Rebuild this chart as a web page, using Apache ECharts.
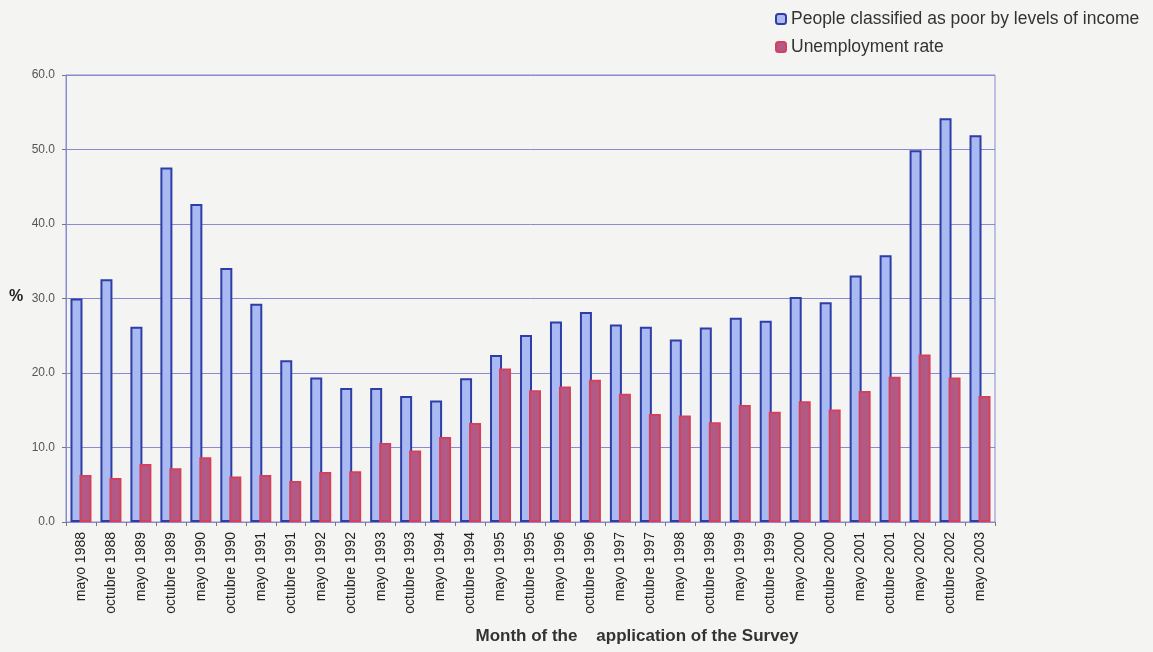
<!DOCTYPE html>
<html>
<head>
<meta charset="utf-8">
<script src="https://cdn.jsdelivr.net/npm/echarts@6/dist/echarts.min.js"></script>
<style>
html,body{margin:0;padding:0;background:#f4f4f3;}
#c{width:1153px;height:652px;}
</style>
</head>
<body>
<div id="c"></div>
<script>
const categories = [
  'mayo 1988','octubre 1988','mayo 1989','octubre 1989','mayo 1990','octubre 1990',
  'mayo 1991','octubre 1991','mayo 1992','octubre 1992','mayo 1993','octubre 1993',
  'mayo 1994','octubre 1994','mayo 1995','octubre 1995','mayo 1996','octubre 1996',
  'mayo 1997','octubre 1997','mayo 1998','octubre 1998','mayo 1999','octubre 1999',
  'mayo 2000','octubre 2000','mayo 2001','octubre 2001','mayo 2002','octubre 2002','mayo 2003'
];
const poorValues = [
  30.0, 32.6, 26.2, 47.6, 42.7, 34.1, 29.3, 21.7, 19.4, 18.0, 18.0, 16.9,
  16.3, 19.3, 22.4, 25.1, 26.9, 28.2, 26.5, 26.2, 24.5, 26.1, 27.4, 27.0,
  30.2, 29.5, 33.1, 35.8, 49.9, 54.2, 51.9
];
const unemploymentValues = [
  6.3, 5.9, 7.8, 7.2, 8.7, 6.1, 6.3, 5.5, 6.7, 6.8, 10.6, 9.6,
  11.4, 13.3, 20.6, 17.7, 18.2, 19.1, 17.2, 14.5, 14.3, 13.4, 15.7, 14.8,
  16.2, 15.1, 17.6, 19.5, 22.5, 19.4, 16.9
];
const yTicks = { min: 0, max: 60, interval: 10 };
const seriesNames = ['People classified as poor by levels of income', 'Unemployment rate'];

const chart = echarts.init(document.getElementById('c'), null, { renderer: 'canvas' });
const font = '"Liberation Sans", Arial, sans-serif';
chart.setOption({
  backgroundColor: '#f4f4f3',
  animation: false,
  grid: { left: 66, right: 158, top: 75, bottom: 130, show: true, borderColor: '#8a8ad0', borderWidth: 1, backgroundColor: 'transparent' },
  legend: {
    orient: 'vertical', left: 770, top: 5, itemWidth: 10, itemHeight: 10, itemGap: 10,
    textStyle: { fontFamily: font, fontSize: 17.5, color: '#333' },
    data: seriesNames
  },
  xAxis: {
    type: 'category', data: categories,
    axisLine: { lineStyle: { color: '#8a8ad0' } },
    axisTick: { show: true, alignWithLabel: false, length: 4, lineStyle: { color: '#777' } },
    axisLabel: { rotate: 90, margin: 10, fontFamily: font, fontSize: 14, color: '#222', interval: 0 }
  },
  yAxis: {
    type: 'value', min: yTicks.min, max: yTicks.max, interval: yTicks.interval,
    axisLine: { show: true, lineStyle: { color: '#8a8ad0' } },
    axisTick: { show: true, length: 4, lineStyle: { color: '#777' } },
    axisLabel: { margin: 11, fontFamily: font, fontSize: 12, color: '#555', formatter: v => v.toFixed(1) },
    splitLine: { lineStyle: { color: '#8a8ad0', width: 1 } }
  },
  graphic: [
    { type: 'text', left: 9, top: 289, style: { text: '%', font: 'bold 16px ' + font, fill: '#222' } },
    { type: 'text', x: 637, y: 628, style: { text: 'Month of the    application of the Survey', font: 'bold 17px ' + font, fill: '#333', textAlign: 'center' } }
  ],
  series: [
    {
      name: seriesNames[0], type: 'bar', data: poorValues, barWidth: 12, barGap: '-25%',
      itemStyle: { color: '#a9b9f2', borderColor: '#2e3ea6', borderWidth: 2 }
    },
    {
      name: seriesNames[1], type: 'bar', data: unemploymentValues, barWidth: 12, barGap: '-25%',
      itemStyle: { color: '#b25a86', borderColor: '#d6405c', borderWidth: 2 }
    }
  ]
});
</script>
</body>
</html>
